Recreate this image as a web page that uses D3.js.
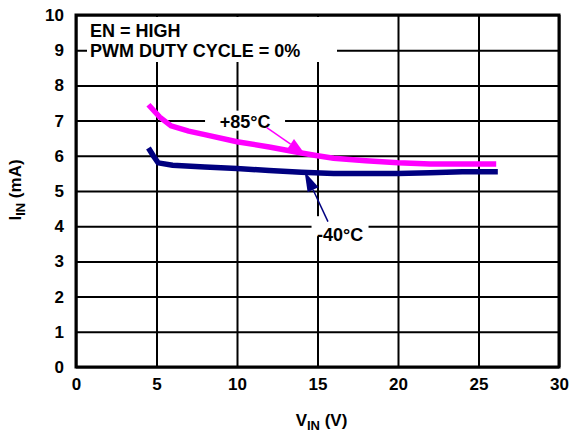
<!DOCTYPE html>
<html>
<head>
<meta charset="utf-8">
<script src="https://cdn.jsdelivr.net/npm/d3@7"></script>
<style>
  body { margin: 0; background: #fff; }
  svg text { font-family: "Liberation Sans", Arial, sans-serif; font-weight: bold; fill: #000; }
</style>
</head>
<body>
<svg id="svg" width="572" height="436"></svg>
<script>
// data
const xTicks = [0, 5, 10, 15, 20, 25, 30];
const yTicks = [0, 1, 2, 3, 4, 5, 6, 7, 8, 9, 10];

const vinHot = [4.5, 5.2, 5.9, 7, 8, 10, 12, 14, 15, 16, 18, 20, 22, 24, 26.1];
const iinHot = [7.45, 7.1, 6.85, 6.7, 6.6, 6.4, 6.25, 6.08, 6.0, 5.93, 5.86, 5.8, 5.77, 5.77, 5.77];

const vinCold = [4.5, 4.8, 5.1, 6, 8, 10, 12, 14, 16, 18, 20, 22, 24, 26.2];
const iinCold = [6.22, 6.0, 5.8, 5.73, 5.68, 5.64, 5.58, 5.53, 5.5, 5.5, 5.5, 5.52, 5.55, 5.55];

const noteLines = ["EN = HIGH", "PWM DUTY CYCLE = 0%"];

const margin = {top: 15, right: 13, bottom: 69, left: 76};
const width = 572 - margin.left - margin.right,
    height = 436 - margin.top - margin.bottom;

const svg = d3.select("#svg");
const g = svg.append("g").attr("transform", `translate(${margin.left},${margin.top})`);

const x = d3.scaleLinear().domain([0, 30]).range([0, width]);
const y = d3.scaleLinear().domain([0, 10]).range([height, 0]);

// grid
g.append("g")
    .attr("transform", `translate(0,${height})`)
    .call(d3.axisBottom(x).tickValues(xTicks).tickSize(-height).tickFormat(""))
    .call(a => a.select(".domain").remove())
    .selectAll("line").attr("stroke", "#000").attr("stroke-width", 2);
g.append("g")
    .call(d3.axisLeft(y).tickValues(yTicks).tickSize(-width).tickFormat(""))
    .call(a => a.select(".domain").remove())
    .selectAll("line").attr("stroke", "#000").attr("stroke-width", 2);

// tick labels
const xa = g.append("g")
    .attr("transform", `translate(0,${height})`)
    .call(d3.axisBottom(x).tickValues(xTicks).tickSize(0).tickPadding(11));
xa.select(".domain").remove();
xa.selectAll("text").style("font-size", "17px").attr("font-family", null);

const ya = g.append("g")
    .call(d3.axisLeft(y).tickValues(yTicks).tickSize(0).tickPadding(12));
ya.select(".domain").remove();
ya.selectAll("text").style("font-size", "17px").attr("font-family", null);

// white box behind the conditions note
g.append("rect")
    .attr("x", 11).attr("y", 2).attr("width", 250).attr("height", 45)
    .attr("fill", "#fff");
g.selectAll(".note").data(noteLines).join("text")
    .attr("class", "note")
    .attr("x", 14)
    .attr("y", (d, i) => 22 + i * 19.5)
    .style("font-size", "18px")
    .text(d => d);

// curves
const line = d3.line().x(d => x(d[0])).y(d => y(d[1]));
g.append("path")
    .datum(d3.zip(vinHot, iinHot))
    .attr("fill", "none").attr("stroke", "#ff00ff").attr("stroke-width", 5.5)
    .attr("d", line);
g.append("path")
    .datum(d3.zip(vinCold, iinCold))
    .attr("fill", "none").attr("stroke", "#000080").attr("stroke-width", 5.5)
    .attr("d", line);

// annotations
function label(txt, cx, cy, w) {
    g.append("rect")
        .attr("x", x(cx) - w / 2).attr("y", y(cy) - 10)
        .attr("width", w).attr("height", 20).attr("fill", "#fff");
}
function arrow(x0, y0, x1, y1, col, len, half) {
    const px0 = x(x0), py0 = y(y0), px1 = x(x1), py1 = y(y1);
    const ang = Math.atan2(py1 - py0, px1 - px0);
    const bx = px1 - len * Math.cos(ang), by = py1 - len * Math.sin(ang);
    g.append("line")
        .attr("x1", px0).attr("y1", py0).attr("x2", bx).attr("y2", by)
        .attr("stroke", col).attr("stroke-width", 1.5);
    const nx = -Math.sin(ang) * half, ny = Math.cos(ang) * half;
    g.append("path")
        .attr("d", `M${px1},${py1}L${bx + nx},${by + ny}L${bx - nx},${by - ny}Z`)
        .attr("fill", col);
}

label("+85°C", 10.5, 7, 80);
g.append("text").attr("x", x(10.5)).attr("y", y(7) + 7)
    .attr("text-anchor", "middle").style("font-size", "18px").text("+85°C");
arrow(11.85, 6.8, 14.2, 6.06, "#ff00ff", 17, 6);

label("-40°C", 16.4, 4, 57);
g.append("text").attr("x", x(16.4)).attr("y", y(4) + 15)
    .attr("text-anchor", "middle").style("font-size", "18px").text("-40°C");
arrow(15.65, 4.13, 14.2, 5.55, "#000080", 20, 6);

// frame
g.append("rect")
    .attr("width", width).attr("height", height)
    .attr("fill", "none").attr("stroke", "#000").attr("stroke-width", 3);

// axis titles
const xt = svg.append("text")
    .attr("x", margin.left + x(15) + 4).attr("y", 426)
    .attr("text-anchor", "middle").style("font-size", "17px");
xt.append("tspan").text("V");
xt.append("tspan").attr("dy", 4).style("font-size", "13px").text("IN");
xt.append("tspan").attr("dy", -4).text(" (V)");

const yt = svg.append("text")
    .attr("transform", `translate(21,${margin.top + y(5) - 1}) rotate(-90)`)
    .attr("text-anchor", "middle").style("font-size", "17px");
yt.append("tspan").text("I");
yt.append("tspan").attr("dy", 4).style("font-size", "13px").text("IN");
yt.append("tspan").attr("dy", -4).text(" (mA)");
</script>
</body>
</html>
